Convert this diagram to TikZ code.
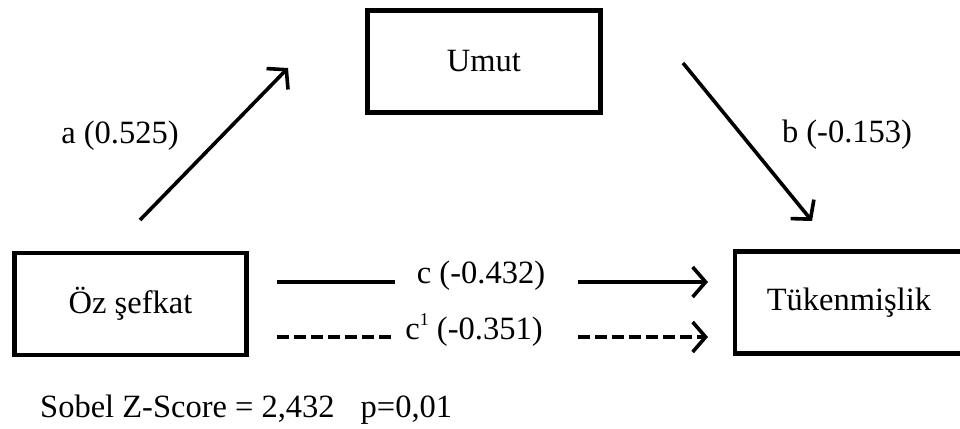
\documentclass[tikz,border=0pt]{standalone}
\usepackage{fontspec}
\setmainfont{Liberation Serif}
\usetikzlibrary{arrows.meta}
\begin{document}
\begin{tikzpicture}[x=1pt,y=-1pt,
  box/.style={draw=black,line width=4.4pt,minimum width=#1,minimum height=102pt,inner sep=0pt,font=\fontsize{32.5}{38}\selectfont},
  lbl/.style={inner sep=0pt,font=\fontsize{32.5}{38}\selectfont},
  arr/.style={line width=3.6pt,-{Straight Barb[length=13pt,width=30pt,line width=3.6pt]}},
  plain/.style={line width=3.6pt},
  dsh/.style={line width=3.6pt,dash pattern=on 12pt off 5pt}]
\useasboundingbox (0,0) rectangle (960,428);
\fill[white] (0,0) rectangle (960,428);
\node[box=232pt] (oz) at (130.5,304) {Öz şefkat};
\node[box=233pt] (umut) at (484,61.5) {Umut};
\node[box=228pt] (tuk) at (849,302.5) {Tükenmişlik};
% free ends
\coordinate (as) at (140,220);
\coordinate (ae) at (288,68);
\coordinate (bs) at (683,63);
\coordinate (be) at (812,221);
\coordinate (c1s) at (277,282);
\coordinate (c1m) at (395,282);
\coordinate (c2m) at (578,282);
\coordinate (c2e) at (708,282);
\coordinate (d1s) at (277,337);
\coordinate (d1m) at (395,337);
\coordinate (d2m) at (578,337);
\coordinate (d2e) at (708,337);
\draw[arr] (as) -- (ae);
\draw[arr] (bs) -- (be);
\draw[plain] (c1s) -- (c1m);
\draw[arr] (c2m) -- (c2e);
\draw[dsh] (d1s) -- (d1m);
\draw[arr,dash pattern=on 12pt off 5pt] (d2m) -- (d2e);
\node[lbl] (la) at (120,136) {a (0.525)};
\node[lbl] (lb) at (847,135) {b (-0.153)};
\node[lbl] (lc) at (481,276) {c (-0.432)};
\node[lbl] (lc1) at (474,330) {c\raisebox{0.42em}{\fontsize{18}{18}\selectfont 1} (-0.351)};
\node[lbl,anchor=base west] (sobel) at (40,417) {Sobel Z-Score = 2,432\hspace{0.55em} p=0,01};
\end{tikzpicture}
\end{document}
